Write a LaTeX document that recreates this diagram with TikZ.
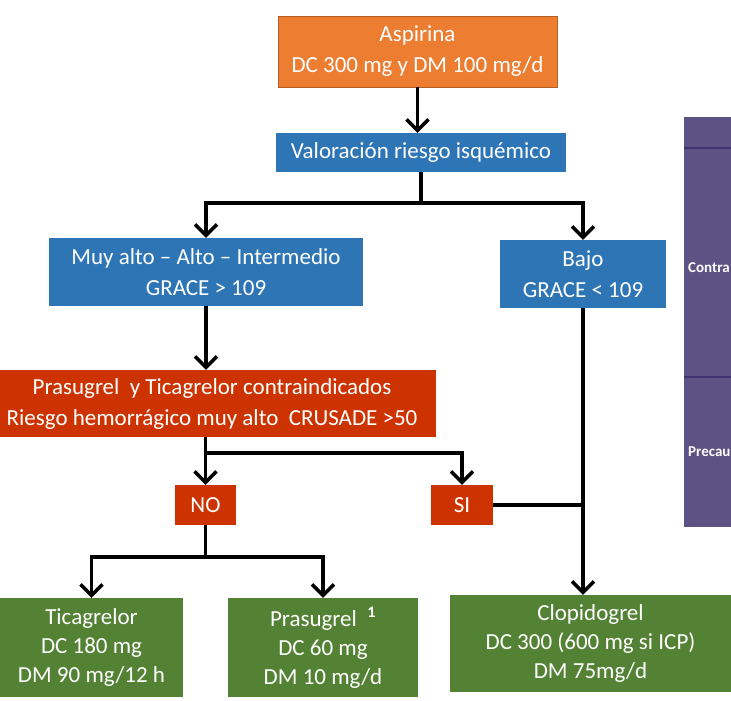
\documentclass[tikz,border=0pt]{standalone}
\usepackage{fontspec}
\setmainfont{Carlito}
\usetikzlibrary{arrows.meta}

\definecolor{aspOrange}{HTML}{ED7D31}
\definecolor{riskBlue}{HTML}{2E75B6}
\definecolor{alertRed}{HTML}{CC3300}
\definecolor{drugGreen}{HTML}{548235}
\definecolor{tablePurple}{HTML}{5C5283}
\definecolor{tableLine}{HTML}{3E356E}

\begin{document}
\begin{tikzpicture}[x=1pt, y=-1pt, align=center,
    font=\fontsize{23}{31}\selectfont,
    >={Straight Barb[length=11pt,width=22pt]},
    box/.style={fill=#1, text=white, inner sep=0pt},
    wire/.style={line width=3.5pt}]
      \useasboundingbox (0,0) rectangle (731,701);

      \node[box=aspOrange, draw=aspOrange!75!black, minimum width=279pt, minimum height=71pt] (Asp) at (417.5,51.5) {Aspirina\\ DC 300 mg y DM 100 mg/d};
      \node[box=riskBlue, minimum width=290pt, minimum height=39pt] (Val) at (421,152.5) {Valoración riesgo isquémico};
      \node[box=riskBlue, minimum width=314pt, minimum height=68pt] (Alto) at (206,272) {Muy alto -- Alto -- Intermedio\\ GRACE > 109};
      \node[box=riskBlue, minimum width=166pt, minimum height=68pt] (Bajo) at (583,274) {Bajo\\ GRACE < 109};
      \node[box=alertRed, minimum width=448pt, minimum height=67pt] (Contra) at (212,403.5) {Prasugrel\ \ y Ticagrelor contraindicados\\ Riesgo hemorrágico muy alto\ \ CRUSADE >50};
      \node[box=alertRed, minimum width=61pt, minimum height=40pt] (NO) at (205.5,505) {NO};
      \node[box=alertRed, minimum width=62pt, minimum height=40pt] (SI) at (462,505) {SI};
      \node[box=drugGreen, minimum width=183pt, minimum height=99pt, font=\fontsize{23}{29}\selectfont] (Tica) at (91.5,647.5) {Ticagrelor\\ DC 180 mg\\ DM 90 mg/12 h};
      \node[box=drugGreen, minimum width=190pt, minimum height=99pt, font=\fontsize{23}{29}\selectfont] (Pras) at (323,647.5) {Prasugrel\ \ \textsuperscript{\bfseries 1}\\ DC 60 mg\\ DM 10 mg/d};
      \node[box=drugGreen, minimum width=281pt, minimum height=97pt, font=\fontsize{23}{29}\selectfont] (Clop) at (590.5,643.5) {Clopidogrel\\ DC 300 (600 mg si ICP)\\ DM 75mg/d};

      % table cut at the right edge
      \fill[tablePurple] (684,117) rectangle (731,527);
      \draw[tableLine, line width=1.5pt] (684,148) -- (731,148);
      \draw[tableLine, line width=1.5pt] (684,377) -- (731,377);
      \node[anchor=west, text=white, inner sep=0pt, font=\fontsize{15}{17}\selectfont\bfseries] (ContraLbl) at (688,268) {Contra};
      \node[anchor=west, text=white, inner sep=0pt, font=\fontsize{15}{17}\selectfont\bfseries] (PrecauLbl) at (688,452) {Precau};

      \coordinate (V1) at (421,203);
      \coordinate (C1) at (205.5,453);
      \coordinate (N1) at (205.5,557);

      \draw[wire,->] (Asp) -- (Asp |- Val.north);
      \draw[wire] (Val) -- (V1);
      \draw[wire,->] (V1) -| (Alto);
      \draw[wire,->] (V1) -| (Bajo);
      \draw[wire,->] (Alto) -- (Alto |- Contra.north);
      \draw[wire,->] (NO |- Contra.south) -- (NO);
      \draw[wire,->] (C1) -| (SI);
      \draw[wire] (SI) -- (SI -| Bajo);
      \draw[wire,->] (Bajo) -- (Bajo |- Clop.north);
      \draw[wire] (NO) -- (N1);
      \draw[wire,->] (N1) -| (Tica);
      \draw[wire,->] (N1) -| (Pras);
\end{tikzpicture}
\end{document}
